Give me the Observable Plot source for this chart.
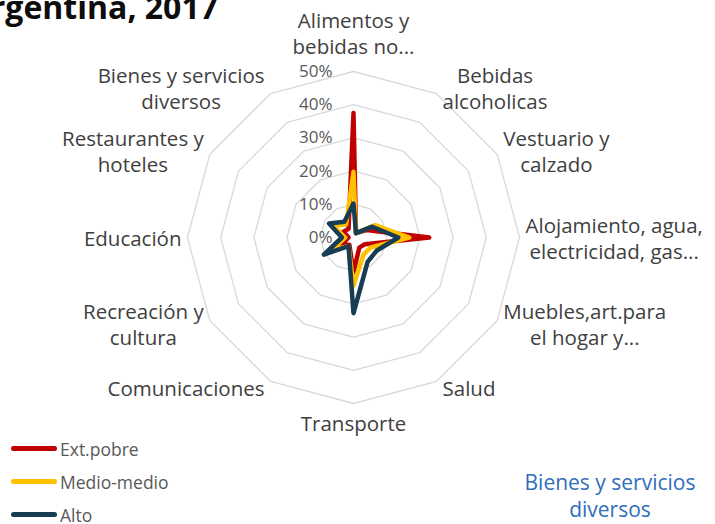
<!DOCTYPE html>
<html><head><meta charset="utf-8">
<script src="https://cdn.jsdelivr.net/npm/d3@7"></script>
<script src="https://cdn.jsdelivr.net/npm/@observablehq/plot@0.6"></script>
<style>
html,body{margin:0;padding:0;background:#fff;}
#wrap{position:relative;width:715px;height:524px;overflow:hidden;font-family:"Open Sans",sans-serif;}
#chart{position:absolute;left:0;top:0;}
#title{position:absolute;right:497px;top:-9px;font-weight:700;font-size:32px;line-height:32px;color:#0d0d0d;white-space:nowrap;}
#legend{position:absolute;left:11px;top:432px;font-size:17.5px;color:#595959;}
.row{display:flex;align-items:center;height:33px;}
.sw{width:46px;height:4.5px;border-radius:3px;margin-right:3px;}
#other{position:absolute;left:510px;top:469px;width:200px;text-align:center;font-size:21px;color:#2f6eba;line-height:27px;}
</style></head>
<body><div id="wrap"><div id="chart"></div><div id="title">Argentina, 2017</div><div id="legend"></div><div id="other">Bienes y servicios<br>diversos</div></div>
<script>
// ---- data ----
const categories = ["Alimentos y bebidas no...", "Bebidas alcoholicas", "Vestuario y calzado", "Alojamiento, agua, electricidad, gas...", "Muebles,art.para el hogar y...", "Salud", "Transporte", "Comunicaciones", "Recreación y cultura", "Educación", "Restaurantes y hoteles", "Bienes y servicios diversos"];
const labelLines = ["Alimentos y\nbebidas no...", "Bebidas\nalcoholicas", "Vestuario y\ncalzado", "Alojamiento, agua,\nelectricidad, gas...", "Muebles,art.para\nel hogar y...", "Salud", "Transporte", "Comunicaciones", "Recreación y\ncultura", "Educación", "Restaurantes y\nhoteles", "Bienes y servicios\ndiversos"];
const seriesNames = ["Ext.pobre", "Medio-medio", "Alto"];
const extPobre = [37.5, 1.5, 4.5, 22.8, 4, 3.5, 10.5, 2.5, 4, 1.5, 3.5, 3];
const medioMedio = [19.8, 1.5, 7.5, 16.8, 6, 6, 14.5, 3, 7.5, 2.5, 7, 4.5];
const alto = [10.2, 1.5, 6.5, 13.5, 8, 8.5, 22.8, 3, 10.3, 3.5, 8.5, 5.5];
const ticks = [0, 10, 20, 30, 40, 50];
const colors = ["#c00000", "#ffc000", "#163d52"];

// ---- layout ----
const W = 715, H = 524, CX = 353, CY = 237, K = 3.32; // px per percentage point
const N = categories.length;
const ang = i => i * 2 * Math.PI / N;
const pxX = (v, i) => v * Math.sin(ang(i));
const pxY = (v, i) => v * Math.cos(ang(i));

const seriesVals = [extPobre, medioMedio, alto];
const lineData = seriesVals.map((vals, s) => vals.map((v, i) => ({series: seriesNames[s], cat: categories[i], x: pxX(v, i), y: pxY(v, i)})));

const rings = [];
for (const t of ticks.slice(1)) for (let i = 0; i < N; i++) rings.push({level: t, x: pxX(t, i), y: pxY(t, i)});

// category label placement
const FONT = '"Open Sans", sans-serif';
const catSize = 20.5, lineH = 26;
const ctx = document.createElement("canvas").getContext("2d");
ctx.font = `${catSize}px ${FONT}`;
const Rmax = ticks[ticks.length - 1];
const gap = 6;
const labels = labelLines.map((t, i) => {
  const lines = t.split("\n");
  const w = Math.max(...lines.map(l => ctx.measureText(l).width));
  const h = lines.length * lineH;
  const s = Math.sin(ang(i)), c = Math.cos(ang(i));
  const vx = Rmax * K * s, vy = -Rmax * K * c; // px offsets from centre (y down)
  let lx, ly;
  if (Math.abs(s) < 1e-6) {
    lx = vx;
    ly = c > 0 ? vy - gap - h / 2 - 7 : vy + gap + h / 2;
  } else {
    lx = vx + Math.sign(s) * (gap + w / 2);
    ly = vy - 7 * c;
  }
  return {text: t, x: lx / K, y: -ly / K};
});

const chart = Plot.plot({
  width: W, height: H, margin: 0,
  x: {domain: [-CX / K, (W - CX) / K], range: [0, W], axis: null},
  y: {domain: [-(H - CY) / K, CY / K], range: [H, 0], axis: null},
  style: {fontFamily: FONT, background: "transparent"},
  marks: [
    Plot.line(rings, {x: "x", y: "y", z: "level", curve: "linear-closed", stroke: "#d9d9d9", strokeWidth: 1.3}),
    ...lineData.map((d, s) => Plot.line(d, {x: "x", y: "y", curve: "linear-closed", stroke: colors[s], strokeWidth: 4.5, strokeLinejoin: "round", strokeLinecap: "round"})),
    Plot.text(ticks, {x: () => 0, y: d => d, text: d => d + "%", textAnchor: "end", dx: -21, fontSize: 17, fill: "#595959"}),
    Plot.text(labels, {x: "x", y: "y", text: "text", textAnchor: "middle", lineAnchor: "middle", lineHeight: lineH / catSize, fontSize: catSize, fill: "#404040"})
  ]
});
document.getElementById("chart").appendChild(chart);

// legend
const leg = document.getElementById("legend");
seriesNames.forEach((n, s) => {
  const row = document.createElement("div"); row.className = "row";
  const sw = document.createElement("span"); sw.className = "sw"; sw.style.background = colors[s];
  const tx = document.createElement("span"); tx.textContent = n;
  row.appendChild(sw); row.appendChild(tx); leg.appendChild(row);
});
</script>
</body></html>
